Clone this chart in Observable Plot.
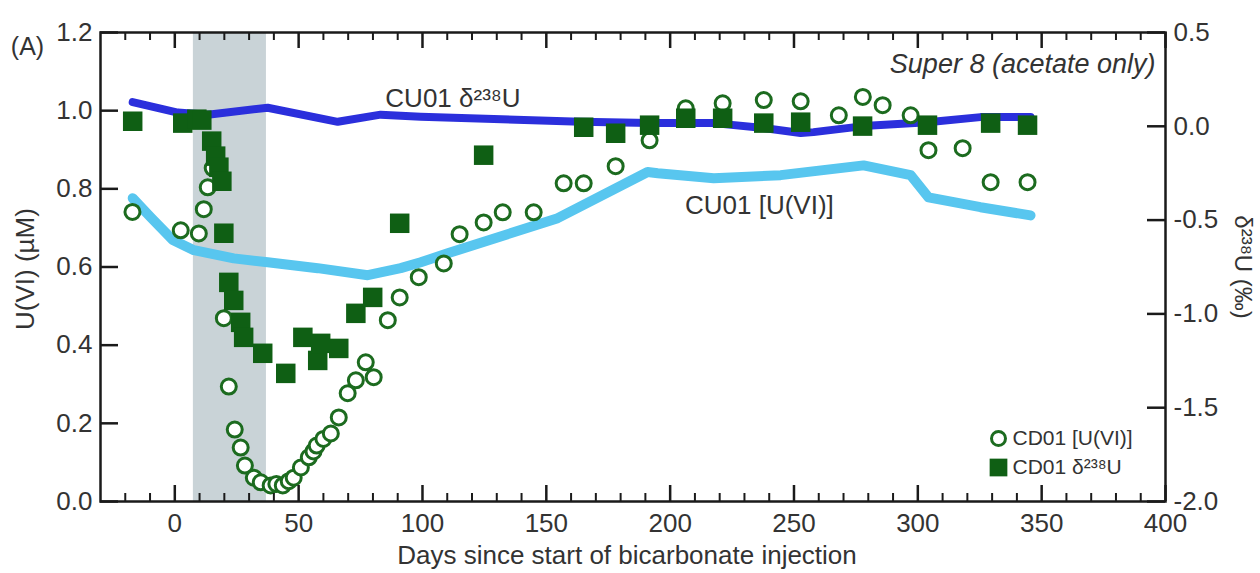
<!DOCTYPE html>
<html>
<head>
<meta charset="utf-8">
<script src="https://cdn.jsdelivr.net/npm/d3@7"></script>
<script src="https://cdn.jsdelivr.net/npm/@observablehq/plot@0.6"></script>
<style>
  html, body { margin: 0; padding: 0; background: #fff; }
  #chart { width: 1260px; height: 573px; }
</style>
</head>
<body>
<div id="chart"></div>
<script>
// ---- data ----
const bandDays = [7.5, 37];

// CU01 [U(VI)] model line (µM, left axis)
const cu01UDays = [-17, -9.7, -0.8, 7.7, 23.8, 37.5, 57.7, 77.9, 91.2, 99.3, 110.2, 154.6, 190.9, 195, 217.6, 244.6, 278.1, 297.1, 304.3, 325.3, 345.5];
const cu01U     = [0.776, 0.727, 0.669, 0.643, 0.622, 0.612, 0.597, 0.579, 0.597, 0.612, 0.635, 0.725, 0.843, 0.840, 0.827, 0.835, 0.860, 0.835, 0.778, 0.753, 0.732];

// CU01 δ238U model line (‰, right axis)
const cu01DDays = [-17, 1.2, 13.3, 37.5, 65.8, 83.1, 99.3, 163.9, 192.1, 217.6, 237.7, 252.7, 257.9, 278.1, 303.9, 325.3, 345.5];
const cu01D     = [0.129, 0.073, 0.062, 0.099, 0.024, 0.062, 0.051, 0.024, 0.017, 0.017, -0.009, -0.036, -0.031, 0.001, 0.022, 0.049, 0.049];

// CD01 [U(VI)] measurements (µM, left axis)
const cd01UDays = [-17.1, 2.4, 9.7, 11.7, 13.3, 15.3, 19.8, 21.8, 24.2, 26.6, 28.3, 31.9, 34.7, 38.7, 41, 43.6, 46, 48, 50.9, 54.1, 56, 57.3, 60, 63, 66.2, 69.8, 73.1, 77.1, 80.3, 86, 90.8, 98.5, 108.6, 115, 124.7, 132.4, 144.9, 157, 165.1, 178, 191.7, 206.3, 221.2, 237.8, 252.7, 268.1, 277.8, 285.8, 297.1, 304.3, 318.1, 329.4, 344.3];
const cd01U     = [0.741, 0.694, 0.686, 0.748, 0.804, 0.853, 0.469, 0.294, 0.184, 0.138, 0.092, 0.061, 0.049, 0.041, 0.045, 0.041, 0.052, 0.061, 0.087, 0.113, 0.128, 0.143, 0.160, 0.174, 0.215, 0.277, 0.310, 0.356, 0.318, 0.464, 0.522, 0.574, 0.609, 0.684, 0.714, 0.740, 0.740, 0.814, 0.814, 0.858, 0.924, 1.006, 1.019, 1.027, 1.024, 0.988, 1.035, 1.014, 0.988, 0.899, 0.904, 0.817, 0.817];

// CD01 δ238U measurements (‰, right axis)
const cd01DDays = [-17, 3.2, 8.9, 10.9, 14.9, 16.5, 17.8, 19, 19.8, 21.8, 23.8, 26.6, 27.8, 35.5, 44.8, 51.7, 57.7, 58.9, 66.2, 73.1, 79.9, 90.8, 124.7, 165.1, 178, 191.7, 206.3, 221.2, 237.8, 252.7, 277.7, 303.9, 329.4, 344.3];
const cd01D     = [0.027, 0.017, 0.038, 0.033, -0.079, -0.159, -0.218, -0.293, -0.570, -0.832, -0.928, -1.045, -1.125, -1.210, -1.317, -1.125, -1.248, -1.157, -1.184, -0.997, -0.912, -0.517, -0.154, -0.005, -0.037, 0.006, 0.043, 0.043, 0.017, 0.022, 0.001, 0.006, 0.017, 0.006];

// axes
const xMajorTicks = [0, 50, 100, 150, 200, 250, 300, 350, 400];
const xMinorTicks = [-20, -10, 10, 20, 30, 40, 60, 70, 80, 90, 110, 120, 130, 140, 160, 170, 180, 190, 210, 220, 230, 240, 260, 270, 280, 290, 310, 320, 330, 340, 360, 370, 380, 390];
const leftTicks  = [0, 0.2, 0.4, 0.6, 0.8, 1.0, 1.2];
const rightTicks = [0.5, 0.0, -0.5, -1.0, -1.5, -2.0];

const lineLabels = [
  {text: "CU01 δ²³⁸U", day: 85, value: 1.009},
  {text: "CU01 [U(VI)]", day: 206, value: 0.735}
];
const panelLetter = "(A)";
const panelNote = "Super 8 (acetate only)";
const legendItems = ["CD01 [U(VI)]", "CD01 δ²³⁸U"];
const xTitle = "Days since start of bicarbonate injection";
const yTitle = "U(VI) (µM)";
const y2Title = "δ²³⁸U (‰)";

// ---- helpers ----
const yDomain = [0, 1.2];
const y2Domain = [-2.0, 0.5];
const toLeft = d => yDomain[0] + (d - y2Domain[0]) * (yDomain[1] - yDomain[0]) / (y2Domain[1] - y2Domain[0]);

const W = 1260, H = 573;
const mL = 100, mR = 95, mT = 32, mB = 72;
const innerW = W - mL - mR, innerH = H - mT - mB;

const uLine = cu01UDays.map((d, i) => ({d, v: cu01U[i]}));
const dLine = cu01DDays.map((d, i) => ({d, v: toLeft(cu01D[i])}));
const uPts  = cd01UDays.map((d, i) => ({d, v: cd01U[i]}));
const dPts  = cd01DDays.map((d, i) => ({d, v: toLeft(cd01D[i])}));

const GREEN = "#0f5f14";
const GREEN_C = "#1c6b1f";
const DARKBLUE = "#2b2fdc";
const LIGHTBLUE = "#58c6ef";
const TXT = "#333";
const FONT = "Liberation Sans, Arial, Helvetica, sans-serif";

const chart = Plot.plot({
  width: W, height: H,
  marginLeft: mL, marginRight: mR, marginTop: mT, marginBottom: mB,
  style: {fontFamily: FONT, background: "#fff", overflow: "visible"},
  x: {domain: [-30, 400], axis: null},
  y: {domain: yDomain, axis: null},
  marks: [
    Plot.rectX([bandDays], {x1: d => d[0], x2: d => d[1], fill: "#c9d3d7"}),
    // model lines
    Plot.line(dLine, {x: "d", y: "v", stroke: DARKBLUE, strokeWidth: 8, strokeLinejoin: "round", strokeLinecap: "round"}),
    Plot.line(uLine, {x: "d", y: "v", stroke: LIGHTBLUE, strokeWidth: 10, strokeLinejoin: "round", strokeLinecap: "round"}),
    // measurements
    Plot.dot(uPts, {x: "d", y: "v", r: 7.5, stroke: GREEN_C, strokeWidth: 3, fill: "white"}),
    Plot.dot(dPts, {x: "d", y: "v", r: 11, symbol: "square", fill: GREEN, stroke: "none"}),
    // frame
    Plot.frame({stroke: "#1a1a1a", strokeWidth: 2.5}),
    // inward ticks: bottom & top
    Plot.tickX(xMajorTicks, {x: d => d, insetTop: innerH - 16, stroke: "#1a1a1a", strokeWidth: 2.5}),
    Plot.tickX(xMinorTicks, {x: d => d, insetTop: innerH - 8, stroke: "#1a1a1a", strokeWidth: 2}),
    Plot.tickX(xMajorTicks, {x: d => d, insetBottom: innerH - 16, stroke: "#1a1a1a", strokeWidth: 2.5}),
    Plot.tickX(xMinorTicks, {x: d => d, insetBottom: innerH - 8, stroke: "#1a1a1a", strokeWidth: 2}),
    // left & right ticks
    Plot.tickY(leftTicks, {y: d => d, insetRight: innerW - 18, stroke: "#1a1a1a", strokeWidth: 2.5}),
    Plot.tickY(rightTicks, {y: d => toLeft(d), insetLeft: innerW - 18, stroke: "#1a1a1a", strokeWidth: 2.5}),
    // tick labels
    Plot.text(xMajorTicks, {x: d => d, frameAnchor: "bottom", dy: 22, text: d => String(d), fontSize: 26, fill: TXT, lineAnchor: "middle", textAnchor: "middle"}),
    Plot.text(leftTicks, {y: d => d, frameAnchor: "left", dx: -8, text: d => d.toFixed(1), fontSize: 26, fill: TXT, textAnchor: "end"}),
    Plot.text(rightTicks, {y: d => toLeft(d), frameAnchor: "right", dx: 8, text: d => (d < 0 ? "-" : "") + Math.abs(d).toFixed(1), fontSize: 26, fill: TXT, textAnchor: "start"}),
    // axis titles
    Plot.text([xTitle], {frameAnchor: "bottom", dx: -6, dy: 54, text: d => d, fontSize: 26, fill: TXT, lineAnchor: "middle", textAnchor: "middle"}),
    Plot.text([yTitle], {frameAnchor: "left", dx: -75, dy: 2, rotate: -90, text: d => d, fontSize: 26, fill: TXT, textAnchor: "middle", lineAnchor: "middle"}),
    Plot.text([y2Title], {frameAnchor: "right", dx: 77, rotate: 90, text: d => d, fontSize: 24, fill: TXT, textAnchor: "middle", lineAnchor: "middle"}),
    Plot.text([panelLetter], {frameAnchor: "top-left", dx: -73, dy: 14, text: d => d, fontSize: 25, fill: TXT, textAnchor: "middle", lineAnchor: "middle"}),
    // annotations
    Plot.text(lineLabels, {x: "day", y: "value", text: "text", fontSize: 26, fill: TXT, textAnchor: "start", lineAnchor: "bottom"}),
    Plot.text([panelNote], {frameAnchor: "top-right", dx: -10, dy: 21, text: d => d, fontSize: 27, fontStyle: "italic", fill: TXT, textAnchor: "end", lineAnchor: "top"}),
    // legend
    Plot.dot([0], {frameAnchor: "bottom-right", dx: -167, dy: -63, r: 7, stroke: GREEN_C, strokeWidth: 3, fill: "white"}),
    Plot.dot([0], {frameAnchor: "bottom-right", dx: -167, dy: -34, r: 10, symbol: "square", fill: GREEN}),
    Plot.text([legendItems[0]], {frameAnchor: "bottom-right", dx: -153, dy: -63, text: d => d, fontSize: 21, fill: TXT, textAnchor: "start", lineAnchor: "middle"}),
    Plot.text([legendItems[1]], {frameAnchor: "bottom-right", dx: -153, dy: -34, text: d => d, fontSize: 21, fill: TXT, textAnchor: "start", lineAnchor: "middle"})
  ]
});
document.getElementById("chart").appendChild(chart);
</script>
</body>
</html>
